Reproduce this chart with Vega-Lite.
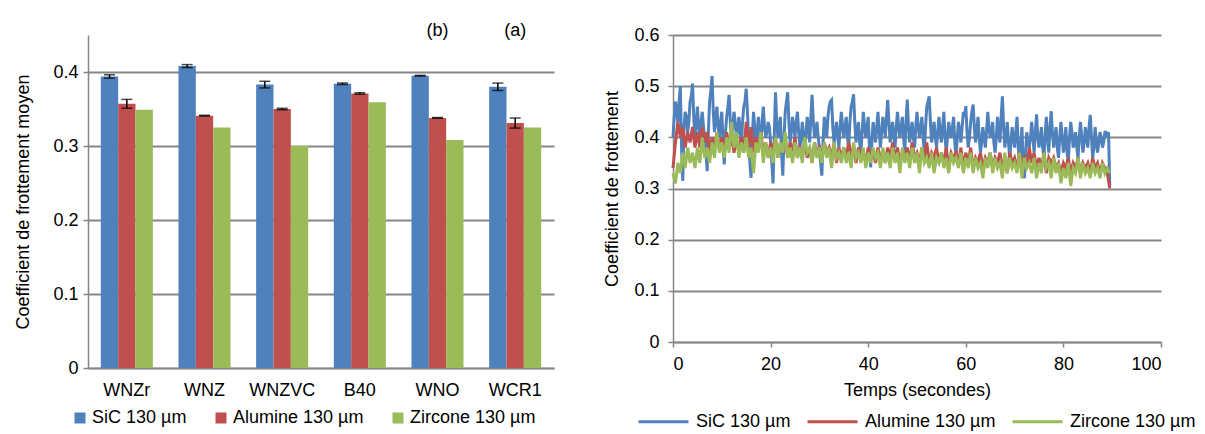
{
"$schema": "https://vega.github.io/schema/vega-lite/v6.json",
"background": "white",
"padding": {"left": 14, "top": 22, "right": 5, "bottom": 0},
"bounds": "flush",
"spacing": 119,
"config": {
  "font": "Liberation Sans",
  "view": {"stroke": null},
  "axis": {"labelFont": "Liberation Sans", "labelFontSize": 18, "labelColor": "#000", "titleFont": "Liberation Sans", "titleFontSize": 18, "titleFontWeight": "normal", "titleColor": "#000", "domainColor": "#868686", "domainWidth": 1.5, "tickColor": "#868686", "tickWidth": 1.5, "gridColor": "#868686", "gridWidth": 2, "tickSize": 5},
  "legend": {"labelFont": "Liberation Sans", "labelFontSize": 18, "labelColor": "#000", "padding": 0}
},
"datasets": {
  "bars": [
    {"m":"WNZr","s":"SiC 130 µm","v":0.394,"lo":0.3917,"hi":0.3963},
    {"m":"WNZr","s":"Alumine 130 µm","v":0.357,"lo":0.351,"hi":0.363},
    {"m":"WNZr","s":"Zircone 130 µm","v":0.349},
    {"m":"WNZ","s":"SiC 130 µm","v":0.408,"lo":0.406,"hi":0.410},
    {"m":"WNZ","s":"Alumine 130 µm","v":0.341,"lo":0.3405,"hi":0.3415},
    {"m":"WNZ","s":"Zircone 130 µm","v":0.325},
    {"m":"WNZVC","s":"SiC 130 µm","v":0.383,"lo":0.3785,"hi":0.3875},
    {"m":"WNZVC","s":"Alumine 130 µm","v":0.350,"lo":0.349,"hi":0.351},
    {"m":"WNZVC","s":"Zircone 130 µm","v":0.300},
    {"m":"B40","s":"SiC 130 µm","v":0.384,"lo":0.383,"hi":0.385},
    {"m":"B40","s":"Alumine 130 µm","v":0.371,"lo":0.370,"hi":0.372},
    {"m":"B40","s":"Zircone 130 µm","v":0.359},
    {"m":"WNO","s":"SiC 130 µm","v":0.395,"lo":0.3945,"hi":0.3955},
    {"m":"WNO","s":"Alumine 130 µm","v":0.338,"lo":0.3375,"hi":0.3385},
    {"m":"WNO","s":"Zircone 130 µm","v":0.308},
    {"m":"WCR1","s":"SiC 130 µm","v":0.380,"lo":0.375,"hi":0.385},
    {"m":"WCR1","s":"Alumine 130 µm","v":0.331,"lo":0.3242,"hi":0.3378},
    {"m":"WCR1","s":"Zircone 130 µm","v":0.325}
  ],
  "notes": [
    {"m":"WNO","y":0.455,"label":"(b)"},
    {"m":"WCR1","y":0.455,"label":"(a)"}
  ],
  "ts": [
{"t":0,"s":0.40,"a":0.34,"z":0.33},{"t":0.5,"s":0.47,"a":0.39,"z":0.31},{"t":1,"s":0.43,"a":0.43,"z":0.35},{"t":1.5,"s":0.50,"a":0.40,"z":0.33},{"t":2,"s":0.315,"a":0.42,"z":0.37},
{"t":2.5,"s":0.45,"a":0.38,"z":0.34},{"t":3,"s":0.41,"a":0.41,"z":0.38},{"t":3.5,"s":0.47,"a":0.39,"z":0.35},{"t":4,"s":0.505,"a":0.42,"z":0.37},{"t":4.5,"s":0.40,"a":0.38,"z":0.34},
{"t":5,"s":0.46,"a":0.41,"z":0.38},{"t":5.5,"s":0.39,"a":0.38,"z":0.35},{"t":6,"s":0.45,"a":0.42,"z":0.40},{"t":6.5,"s":0.40,"a":0.39,"z":0.36},{"t":7,"s":0.334,"a":0.41,"z":0.38},
{"t":7.5,"s":0.47,"a":0.37,"z":0.35},{"t":8,"s":0.52,"a":0.40,"z":0.39},{"t":8.5,"s":0.41,"a":0.38,"z":0.36},{"t":9,"s":0.46,"a":0.41,"z":0.41},{"t":9.5,"s":0.40,"a":0.38,"z":0.37},
{"t":10,"s":0.45,"a":0.40,"z":0.39},{"t":10.5,"s":0.347,"a":0.37,"z":0.36},{"t":11,"s":0.44,"a":0.41,"z":0.40},{"t":11.5,"s":0.483,"a":0.38,"z":0.37},{"t":12,"s":0.39,"a":0.40,"z":0.43},
{"t":12.5,"s":0.45,"a":0.37,"z":0.38},{"t":13,"s":0.40,"a":0.39,"z":0.41},{"t":13.5,"s":0.44,"a":0.38,"z":0.36},{"t":14,"s":0.38,"a":0.40,"z":0.39},{"t":14.5,"s":0.46,"a":0.37,"z":0.37},
{"t":15,"s":0.495,"a":0.43,"z":0.40},{"t":15.5,"s":0.40,"a":0.38,"z":0.36},{"t":16,"s":0.321,"a":0.42,"z":0.38},{"t":16.5,"s":0.45,"a":0.37,"z":0.33},{"t":17,"s":0.39,"a":0.40,"z":0.39},
{"t":17.5,"s":0.44,"a":0.38,"z":0.37},{"t":18,"s":0.38,"a":0.41,"z":0.41},{"t":18.5,"s":0.46,"a":0.37,"z":0.35},{"t":19,"s":0.40,"a":0.39,"z":0.39},{"t":19.5,"s":0.43,"a":0.36,"z":0.36},
{"t":20,"s":0.39,"a":0.39,"z":0.38},{"t":20.5,"s":0.31,"a":0.37,"z":0.35},{"t":21,"s":0.488,"a":0.40,"z":0.40},{"t":21.5,"s":0.40,"a":0.36,"z":0.36},{"t":22,"s":0.44,"a":0.39,"z":0.39},
{"t":22.5,"s":0.325,"a":0.37,"z":0.37},{"t":23,"s":0.45,"a":0.40,"z":0.41},{"t":23.5,"s":0.488,"a":0.36,"z":0.36},{"t":24,"s":0.39,"a":0.39,"z":0.38},{"t":24.5,"s":0.44,"a":0.37,"z":0.35},
{"t":25,"s":0.40,"a":0.40,"z":0.39},{"t":25.5,"s":0.45,"a":0.36,"z":0.36},{"t":26,"s":0.38,"a":0.38,"z":0.38},{"t":26.5,"s":0.43,"a":0.37,"z":0.35},{"t":27,"s":0.37,"a":0.39,"z":0.40},
{"t":27.5,"s":0.44,"a":0.36,"z":0.37},{"t":28,"s":0.39,"a":0.38,"z":0.38},{"t":28.5,"s":0.483,"a":0.35,"z":0.35},{"t":29,"s":0.40,"a":0.39,"z":0.39},{"t":29.5,"s":0.43,"a":0.37,"z":0.36},
{"t":30,"s":0.38,"a":0.38,"z":0.38},{"t":30.5,"s":0.325,"a":0.36,"z":0.35},{"t":31,"s":0.44,"a":0.39,"z":0.39},{"t":31.5,"s":0.40,"a":0.37,"z":0.36},{"t":32,"s":0.46,"a":0.38,"z":0.38},
{"t":32.5,"s":0.473,"a":0.36,"z":0.34},{"t":33,"s":0.39,"a":0.39,"z":0.39},{"t":33.5,"s":0.43,"a":0.35,"z":0.36},{"t":34,"s":0.38,"a":0.38,"z":0.37},{"t":34.5,"s":0.45,"a":0.36,"z":0.35},
{"t":35,"s":0.40,"a":0.38,"z":0.38},{"t":35.5,"s":0.44,"a":0.36,"z":0.35},{"t":36,"s":0.38,"a":0.39,"z":0.37},{"t":36.5,"s":0.46,"a":0.37,"z":0.34},{"t":37,"s":0.484,"a":0.38,"z":0.39},
{"t":37.5,"s":0.39,"a":0.35,"z":0.36},{"t":38,"s":0.43,"a":0.38,"z":0.37},{"t":38.5,"s":0.37,"a":0.36,"z":0.35},{"t":39,"s":0.45,"a":0.37,"z":0.38},{"t":39.5,"s":0.40,"a":0.35,"z":0.34},
{"t":40,"s":0.44,"a":0.38,"z":0.37},{"t":40.5,"s":0.341,"a":0.36,"z":0.35},{"t":41,"s":0.43,"a":0.37,"z":0.38},{"t":41.5,"s":0.39,"a":0.35,"z":0.36},{"t":42,"s":0.45,"a":0.38,"z":0.37},
{"t":42.5,"s":0.38,"a":0.36,"z":0.34},{"t":43,"s":0.44,"a":0.37,"z":0.38},{"t":43.5,"s":0.40,"a":0.35,"z":0.35},{"t":44,"s":0.473,"a":0.38,"z":0.37},{"t":44.5,"s":0.39,"a":0.36,"z":0.34},
{"t":45,"s":0.43,"a":0.39,"z":0.38},{"t":45.5,"s":0.38,"a":0.36,"z":0.35},{"t":46,"s":0.45,"a":0.38,"z":0.37},{"t":46.5,"s":0.40,"a":0.35,"z":0.33},{"t":47,"s":0.44,"a":0.37,"z":0.38},
{"t":47.5,"s":0.37,"a":0.36,"z":0.35},{"t":48,"s":0.474,"a":0.38,"z":0.37},{"t":48.5,"s":0.39,"a":0.35,"z":0.34},{"t":49,"s":0.43,"a":0.39,"z":0.38},{"t":49.5,"s":0.38,"a":0.36,"z":0.35},
{"t":50,"s":0.45,"a":0.37,"z":0.37},{"t":50.5,"s":0.40,"a":0.35,"z":0.33},{"t":51,"s":0.44,"a":0.38,"z":0.38},{"t":51.5,"s":0.37,"a":0.36,"z":0.35},{"t":52,"s":0.46,"a":0.39,"z":0.36},
{"t":52.5,"s":0.48,"a":0.35,"z":0.34},{"t":53,"s":0.39,"a":0.37,"z":0.37},{"t":53.5,"s":0.43,"a":0.36,"z":0.33},{"t":54,"s":0.38,"a":0.38,"z":0.36},{"t":54.5,"s":0.44,"a":0.35,"z":0.35},
{"t":55,"s":0.39,"a":0.37,"z":0.37},{"t":55.5,"s":0.45,"a":0.35,"z":0.34},{"t":56,"s":0.37,"a":0.38,"z":0.36},{"t":56.5,"s":0.43,"a":0.34,"z":0.33},{"t":57,"s":0.40,"a":0.37,"z":0.37},
{"t":57.5,"s":0.44,"a":0.36,"z":0.35},{"t":58,"s":0.36,"a":0.37,"z":0.36},{"t":58.5,"s":0.43,"a":0.35,"z":0.34},{"t":59,"s":0.39,"a":0.38,"z":0.37},{"t":59.5,"s":0.45,"a":0.34,"z":0.33},
{"t":60,"s":0.461,"a":0.37,"z":0.36},{"t":60.5,"s":0.38,"a":0.35,"z":0.34},{"t":61,"s":0.43,"a":0.38,"z":0.37},{"t":61.5,"s":0.464,"a":0.34,"z":0.33},{"t":62,"s":0.39,"a":0.36,"z":0.36},
{"t":62.5,"s":0.44,"a":0.35,"z":0.34},{"t":63,"s":0.37,"a":0.37,"z":0.35},{"t":63.5,"s":0.42,"a":0.34,"z":0.32},{"t":64,"s":0.38,"a":0.36,"z":0.36},{"t":64.5,"s":0.45,"a":0.35,"z":0.34},
{"t":65,"s":0.40,"a":0.37,"z":0.37},{"t":65.5,"s":0.43,"a":0.34,"z":0.33},{"t":66,"s":0.37,"a":0.36,"z":0.36},{"t":66.5,"s":0.44,"a":0.35,"z":0.34},{"t":67,"s":0.39,"a":0.37,"z":0.35},
{"t":67.5,"s":0.48,"a":0.34,"z":0.32},{"t":68,"s":0.38,"a":0.36,"z":0.37},{"t":68.5,"s":0.43,"a":0.33,"z":0.33},{"t":69,"s":0.36,"a":0.37,"z":0.36},{"t":69.5,"s":0.42,"a":0.35,"z":0.34},
{"t":70,"s":0.38,"a":0.36,"z":0.35},{"t":70.5,"s":0.44,"a":0.34,"z":0.33},{"t":71,"s":0.35,"a":0.37,"z":0.37},{"t":71.5,"s":0.42,"a":0.35,"z":0.32},{"t":72,"s":0.32,"a":0.36,"z":0.36},
{"t":72.5,"s":0.41,"a":0.34,"z":0.34},{"t":73,"s":0.38,"a":0.38,"z":0.35},{"t":73.5,"s":0.43,"a":0.35,"z":0.33},{"t":74,"s":0.37,"a":0.37,"z":0.36},{"t":74.5,"s":0.445,"a":0.34,"z":0.32},
{"t":75,"s":0.38,"a":0.36,"z":0.35},{"t":75.5,"s":0.42,"a":0.34,"z":0.33},{"t":76,"s":0.36,"a":0.37,"z":0.37},{"t":76.5,"s":0.44,"a":0.33,"z":0.34},{"t":77,"s":0.37,"a":0.36,"z":0.35},
{"t":77.5,"s":0.451,"a":0.35,"z":0.32},{"t":78,"s":0.38,"a":0.36,"z":0.36},{"t":78.5,"s":0.42,"a":0.34,"z":0.33},{"t":79,"s":0.36,"a":0.35,"z":0.35},{"t":79.5,"s":0.43,"a":0.33,"z":0.31},
{"t":80,"s":0.37,"a":0.35,"z":0.34},{"t":80.5,"s":0.42,"a":0.34,"z":0.32},{"t":81,"s":0.35,"a":0.36,"z":0.35},{"t":81.5,"s":0.43,"a":0.33,"z":0.305},{"t":82,"s":0.38,"a":0.35,"z":0.34},
{"t":82.5,"s":0.41,"a":0.34,"z":0.33},{"t":83,"s":0.36,"a":0.36,"z":0.36},{"t":83.5,"s":0.43,"a":0.33,"z":0.32},{"t":84,"s":0.37,"a":0.35,"z":0.35},{"t":84.5,"s":0.42,"a":0.34,"z":0.33},
{"t":85,"s":0.38,"a":0.35,"z":0.34},{"t":85.5,"s":0.444,"a":0.33,"z":0.32},{"t":86,"s":0.36,"a":0.36,"z":0.35},{"t":86.5,"s":0.42,"a":0.34,"z":0.33},{"t":87,"s":0.37,"a":0.35,"z":0.34},
{"t":87.5,"s":0.41,"a":0.33,"z":0.32},{"t":88,"s":0.38,"a":0.35,"z":0.35},{"t":88.5,"s":0.41,"a":0.34,"z":0.33},{"t":89,"s":0.40,"a":0.33,"z":0.34},{"t":89.5,"s":0.305,"a":0.30,"z":0.33},
{"t":0.25,"s":0.44},{"t":0.75,"s":0.45},{"t":1.25,"s":0.47},{"t":1.75,"s":0.38},{"t":2.25,"s":0.42},{"t":2.75,"s":0.44},{"t":3.25,"s":0.43},{"t":3.75,"s":0.48},{"t":4.25,"s":0.44},{"t":4.75,"s":0.43},
{"t":5.25,"s":0.42},{"t":5.75,"s":0.43},{"t":6.25,"s":0.42},{"t":6.75,"s":0.37},{"t":7.25,"s":0.41},{"t":7.75,"s":0.49},{"t":8.25,"s":0.45},{"t":8.75,"s":0.44},{"t":9.25,"s":0.42},{"t":9.75,"s":0.43},
{"t":10.25,"s":0.39},{"t":10.75,"s":0.41},{"t":11.25,"s":0.46},{"t":11.75,"s":0.43},{"t":12.25,"s":0.42},{"t":12.75,"s":0.43},{"t":13.25,"s":0.41},{"t":13.75,"s":0.42},{"t":14.25,"s":0.43},{"t":14.75,"s":0.47},
{"t":15.25,"s":0.45},{"t":15.75,"s":0.35},{"t":16.25,"s":0.40},{"t":16.75,"s":0.42},{"t":17.25,"s":0.41},{"t":17.75,"s":0.41},{"t":18.25,"s":0.43},{"t":18.75,"s":0.42},{"t":19.25,"s":0.41},{"t":19.75,"s":0.42},
{"t":20.25,"s":0.35},{"t":20.75,"s":0.40},{"t":21.25,"s":0.43},{"t":21.75,"s":0.42},{"t":22.25,"s":0.37},{"t":22.75,"s":0.40},{"t":23.25,"s":0.47},{"t":23.75,"s":0.43},{"t":24.25,"s":0.41},{"t":24.75,"s":0.42},
{"t":25.25,"s":0.43},{"t":25.75,"s":0.41},{"t":26.25,"s":0.40},{"t":26.75,"s":0.40},{"t":27.25,"s":0.41},{"t":27.75,"s":0.42},{"t":28.25,"s":0.44},{"t":28.75,"s":0.43},{"t":29.25,"s":0.41},{"t":29.75,"s":0.40},
{"t":30.25,"s":0.35},{"t":30.75,"s":0.39},{"t":31.25,"s":0.42},{"t":31.75,"s":0.44},{"t":32.25,"s":0.47},{"t":32.75,"s":0.42},{"t":33.25,"s":0.41},{"t":33.75,"s":0.40},{"t":34.25,"s":0.42},{"t":34.75,"s":0.42},
{"t":35.25,"s":0.42},{"t":35.75,"s":0.40},{"t":36.25,"s":0.43},{"t":36.75,"s":0.47},{"t":37.25,"s":0.43},{"t":37.75,"s":0.41},{"t":38.25,"s":0.39},{"t":38.75,"s":0.41},{"t":39.25,"s":0.42},{"t":39.75,"s":0.42},
{"t":40.25,"s":0.38},{"t":40.75,"s":0.39},{"t":41.25,"s":0.41},{"t":41.75,"s":0.42},{"t":42.25,"s":0.41},{"t":42.75,"s":0.41},{"t":43.25,"s":0.42},{"t":43.75,"s":0.44},{"t":44.25,"s":0.43},{"t":44.75,"s":0.41},
{"t":45.25,"s":0.40},{"t":45.75,"s":0.42},{"t":46.25,"s":0.42},{"t":46.75,"s":0.42},{"t":47.25,"s":0.40},{"t":47.75,"s":0.43},{"t":48.25,"s":0.42},{"t":48.75,"s":0.41},{"t":49.25,"s":0.40},{"t":49.75,"s":0.42},
{"t":50.25,"s":0.42},{"t":50.75,"s":0.42},{"t":51.25,"s":0.40},{"t":51.75,"s":0.42},{"t":52.25,"s":0.47},{"t":52.75,"s":0.43},{"t":53.25,"s":0.41},{"t":53.75,"s":0.40},{"t":54.25,"s":0.41},{"t":54.75,"s":0.41},
{"t":55.25,"s":0.42},{"t":55.75,"s":0.40},{"t":56.25,"s":0.40},{"t":56.75,"s":0.41},{"t":57.25,"s":0.42},{"t":57.75,"s":0.39},{"t":58.25,"s":0.40},{"t":58.75,"s":0.41},{"t":59.25,"s":0.42},{"t":59.75,"s":0.44},
{"t":60.25,"s":0.41},{"t":60.75,"s":0.40},{"t":61.25,"s":0.45},{"t":61.75,"s":0.42},{"t":62.25,"s":0.41},{"t":62.75,"s":0.40},{"t":63.25,"s":0.39},{"t":63.75,"s":0.40},{"t":64.25,"s":0.41},{"t":64.75,"s":0.42},
{"t":65.25,"s":0.41},{"t":65.75,"s":0.39},{"t":66.25,"s":0.40},{"t":66.75,"s":0.41},{"t":67.25,"s":0.44},{"t":67.75,"s":0.42},{"t":68.25,"s":0.40},{"t":68.75,"s":0.39},{"t":69.25,"s":0.39},{"t":69.75,"s":0.40},
{"t":70.25,"s":0.41},{"t":70.75,"s":0.38},{"t":71.25,"s":0.38},{"t":71.75,"s":0.35},{"t":72.25,"s":0.37},{"t":72.75,"s":0.39},{"t":73.25,"s":0.40},{"t":73.75,"s":0.40},{"t":74.25,"s":0.41},{"t":74.75,"s":0.40},
{"t":75.25,"s":0.40},{"t":75.75,"s":0.38},{"t":76.25,"s":0.40},{"t":76.75,"s":0.40},{"t":77.25,"s":0.42},{"t":77.75,"s":0.41},{"t":78.25,"s":0.40},{"t":78.75,"s":0.38},{"t":79.25,"s":0.40},{"t":79.75,"s":0.40},
{"t":80.25,"s":0.39},{"t":80.75,"s":0.37},{"t":81.25,"s":0.40},{"t":81.75,"s":0.41},{"t":82.25,"s":0.39},{"t":82.75,"s":0.38},{"t":83.25,"s":0.40},{"t":83.75,"s":0.40},{"t":84.25,"s":0.39},{"t":84.75,"s":0.40},
{"t":85.25,"s":0.42},{"t":85.75,"s":0.40},{"t":86.25,"s":0.38},{"t":86.75,"s":0.39},{"t":87.25,"s":0.39},{"t":87.75,"s":0.40},{"t":88.25,"s":0.39},{"t":88.75,"s":0.41},{"t":89.25,"s":0.41}
  ]
},
"resolve": {"scale": {"color": "independent"}, "legend": {"color": "independent"}},
"hconcat": [
  {
    "width": 466, "height": 333,
    "layer": [
      {
        "data": {"name": "bars"},
        "mark": {"type": "bar"},
        "encoding": {
          "x": {"field": "m", "type": "nominal", "scale": {"domain": ["WNZr","WNZ","WNZVC","B40","WNO","WCR1"], "paddingInner": 0.33, "paddingOuter": 0.165}, "axis": {"title": null, "labelAngle": 0, "ticks": false, "labelPadding": 13, "grid": false}},
          "xOffset": {"field": "s", "type": "nominal", "scale": {"domain": ["SiC 130 µm","Alumine 130 µm","Zircone 130 µm"], "paddingInner": 0, "paddingOuter": 0}},
          "y": {"field": "v", "type": "quantitative", "scale": {"domain": [0, 0.45], "nice": false}, "axis": {"values": [0, 0.1, 0.2, 0.3, 0.4], "format": "~g", "title": "Coefficient de frottement moyen", "grid": true, "labelPadding": 5, "titlePadding": 20}},
          "color": {"field": "s", "type": "nominal", "scale": {"domain": ["SiC 130 µm","Alumine 130 µm","Zircone 130 µm"], "range": ["#4F81BD","#C0504D","#9BBB59"]}, "legend": {"title": null, "orient": "none", "direction": "horizontal", "legendX": -17, "legendY": 374, "symbolType": "square", "symbolSize": 121, "symbolStrokeWidth": 0, "columnPadding": 25, "labelOffset": 3}}
        }
      },
      {
        "data": {"name": "bars"},
        "transform": [{"filter": "datum.hi != null"}],
        "mark": {"type": "rule", "color": "black", "strokeWidth": 1.5},
        "encoding": {
          "x": {"field": "m", "type": "nominal"},
          "xOffset": {"field": "s", "type": "nominal"},
          "y": {"field": "lo", "type": "quantitative"},
          "y2": {"field": "hi"}
        }
      },
      {
        "data": {"name": "bars"},
        "transform": [{"filter": "datum.hi != null"}],
        "mark": {"type": "tick", "color": "black", "thickness": 1.5, "size": 11, "orient": "horizontal"},
        "encoding": {
          "x": {"field": "m", "type": "nominal"},
          "xOffset": {"field": "s", "type": "nominal"},
          "y": {"field": "hi", "type": "quantitative"}
        }
      },
      {
        "data": {"name": "bars"},
        "transform": [{"filter": "datum.hi != null"}],
        "mark": {"type": "tick", "color": "black", "thickness": 1.5, "size": 11, "orient": "horizontal"},
        "encoding": {
          "x": {"field": "m", "type": "nominal"},
          "xOffset": {"field": "s", "type": "nominal"},
          "y": {"field": "lo", "type": "quantitative"}
        }
      },
      {
        "data": {"name": "notes"},
        "mark": {"type": "text", "fontSize": 18, "font": "Liberation Sans", "color": "#000", "baseline": "middle"},
        "encoding": {
          "x": {"field": "m", "type": "nominal"},
          "y": {"field": "y", "type": "quantitative"},
          "text": {"field": "label"}
        }
      }
    ]
  },
  {
    "width": 488, "height": 307,
    "data": {"name": "ts"},
    "encoding": {
      "x": {"field": "t", "type": "quantitative", "scale": {"domain": [0, 100], "nice": false}, "axis": {"values": [0, 20, 40, 60, 80, 100], "title": "Temps (secondes)", "grid": false, "labelPadding": 8, "titlePadding": 8}}
    },
    "layer": [
      {
        "mark": {"type": "line", "strokeWidth": 3, "invalid": "filter"},
        "encoding": {
          "y": {"field": "s", "type": "quantitative", "scale": {"domain": [0, 0.6], "nice": false}, "title": "Coefficient de frottement", "axis": {"values": [0, 0.1, 0.2, 0.3, 0.4, 0.5, 0.6], "format": "~g", "grid": true, "labelPadding": 9, "titlePadding": 12}},
          "color": {"datum": "SiC 130 µm", "scale": {"domain": ["SiC 130 µm","Alumine 130 µm","Zircone 130 µm"], "range": ["#4F81BD","#C0504D","#9BBB59"]}, "legend": {"title": null, "orient": "none", "direction": "horizontal", "legendX": -36, "legendY": 360, "symbolType": "stroke", "symbolSize": 2500, "symbolStrokeWidth": 3, "columnPadding": 10, "labelOffset": 6}}
        }
      },
      {
        "mark": {"type": "line", "strokeWidth": 3, "invalid": "filter"},
        "encoding": {
          "y": {"field": "a", "type": "quantitative", "title": "Coefficient de frottement"},
          "color": {"datum": "Alumine 130 µm"}
        }
      },
      {
        "mark": {"type": "line", "strokeWidth": 3, "invalid": "filter"},
        "encoding": {
          "y": {"field": "z", "type": "quantitative", "title": "Coefficient de frottement"},
          "color": {"datum": "Zircone 130 µm"}
        }
      }
    ]
  }
]
}
